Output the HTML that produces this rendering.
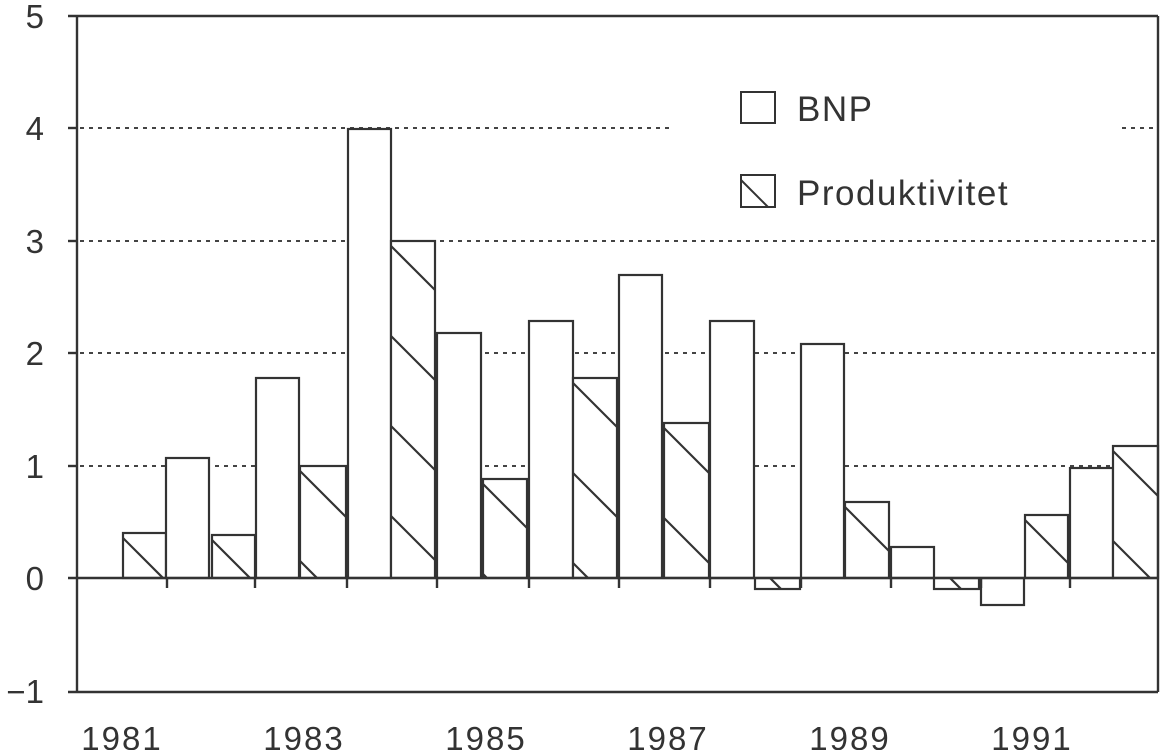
<!DOCTYPE html>
<html><head><meta charset="utf-8"><style>
html,body{margin:0;padding:0;background:#fff;}
svg text{font-family:"Liberation Sans","DejaVu Sans",sans-serif;fill:#333;}
</style></head><body>
<svg width="1162" height="750" viewBox="0 0 1162 750" xmlns="http://www.w3.org/2000/svg">
<defs>
<clipPath id="c1"><rect x="123" y="533" width="43" height="45"/></clipPath>
<clipPath id="c3"><rect x="212" y="535" width="43" height="43"/></clipPath>
<clipPath id="c5"><rect x="300" y="466" width="46" height="112"/></clipPath>
<clipPath id="c7"><rect x="391" y="241" width="44" height="337"/></clipPath>
<clipPath id="c9"><rect x="483" y="479" width="44" height="99"/></clipPath>
<clipPath id="c11"><rect x="573" y="378" width="44" height="200"/></clipPath>
<clipPath id="c13"><rect x="664" y="423" width="45" height="155"/></clipPath>
<clipPath id="c15"><rect x="755" y="578" width="45" height="11"/></clipPath>
<clipPath id="c17"><rect x="845" y="502" width="44" height="76"/></clipPath>
<clipPath id="c19"><rect x="934" y="578" width="45" height="11"/></clipPath>
<clipPath id="c21"><rect x="1025" y="515" width="43" height="63"/></clipPath>
<clipPath id="c23"><rect x="1113" y="446" width="45" height="132"/></clipPath>
</defs>
<g stroke="#444" stroke-width="2" stroke-dasharray="4,5">
<line x1="80" y1="466" x2="1156" y2="466"/>
<line x1="80" y1="353" x2="1156" y2="353"/>
<line x1="80" y1="241" x2="1156" y2="241"/>
<line x1="80" y1="128" x2="670" y2="128"/>
<line x1="1122" y1="128" x2="1156" y2="128"/>
</g>
<g stroke="#333" stroke-width="2.2" fill="#fff">
<rect x="123" y="533" width="43" height="45"/>
<rect x="166" y="458" width="43" height="120"/>
<rect x="212" y="535" width="43" height="43"/>
<rect x="256" y="378" width="43" height="200"/>
<rect x="300" y="466" width="46" height="112"/>
<rect x="348" y="129" width="43" height="449"/>
<rect x="391" y="241" width="44" height="337"/>
<rect x="437" y="333" width="44" height="245"/>
<rect x="483" y="479" width="44" height="99"/>
<rect x="529" y="321" width="44" height="257"/>
<rect x="573" y="378" width="44" height="200"/>
<rect x="619" y="275" width="43" height="303"/>
<rect x="664" y="423" width="45" height="155"/>
<rect x="710" y="321" width="44" height="257"/>
<rect x="755" y="578" width="45" height="11"/>
<rect x="801" y="344" width="43" height="234"/>
<rect x="845" y="502" width="44" height="76"/>
<rect x="891" y="547" width="43" height="31"/>
<rect x="934" y="578" width="45" height="11"/>
<rect x="981" y="578" width="43" height="27"/>
<rect x="1025" y="515" width="43" height="63"/>
<rect x="1070" y="468" width="43" height="110"/>
<rect x="1113" y="446" width="45" height="132"/>
</g>
<g stroke="#333" stroke-width="2.2">
<g clip-path="url(#c1)"><line x1="123" y1="538" x2="166" y2="581"/></g>
<g clip-path="url(#c3)"><line x1="212" y1="540" x2="255" y2="583"/></g>
<g clip-path="url(#c5)"><line x1="300" y1="471" x2="346" y2="517"/><line x1="300" y1="561" x2="346" y2="607"/></g>
<g clip-path="url(#c7)"><line x1="391" y1="246" x2="435" y2="290"/><line x1="391" y1="336" x2="435" y2="380"/><line x1="391" y1="426" x2="435" y2="470"/><line x1="391" y1="516" x2="435" y2="560"/></g>
<g clip-path="url(#c9)"><line x1="483" y1="484" x2="527" y2="528"/><line x1="483" y1="574" x2="527" y2="618"/></g>
<g clip-path="url(#c11)"><line x1="573" y1="383" x2="617" y2="427"/><line x1="573" y1="473" x2="617" y2="517"/><line x1="573" y1="563" x2="617" y2="607"/></g>
<g clip-path="url(#c13)"><line x1="664" y1="428" x2="709" y2="473"/><line x1="664" y1="518" x2="709" y2="563"/></g>
<g clip-path="url(#c15)"><line x1="770" y1="578" x2="790" y2="598"/></g>
<g clip-path="url(#c17)"><line x1="845" y1="507" x2="889" y2="551"/></g>
<g clip-path="url(#c19)"><line x1="950" y1="578" x2="970" y2="598"/></g>
<g clip-path="url(#c21)"><line x1="1025" y1="520" x2="1068" y2="563"/></g>
<g clip-path="url(#c23)"><line x1="1113" y1="451" x2="1158" y2="496"/><line x1="1113" y1="541" x2="1158" y2="586"/></g>
</g>
<g stroke="#333" stroke-width="2.4" fill="none">
<line x1="68" y1="16" x2="1158" y2="16"/>
<line x1="77" y1="16" x2="77" y2="692"/>
<line x1="68" y1="692" x2="1158" y2="692"/>
<line x1="1158" y1="16" x2="1158" y2="692"/>
<line x1="68" y1="578" x2="1158" y2="578"/>
<line x1="68" y1="128" x2="77" y2="128"/>
<line x1="68" y1="241" x2="77" y2="241"/>
<line x1="68" y1="353" x2="77" y2="353"/>
<line x1="68" y1="466" x2="77" y2="466"/>
<g>
<line x1="167" y1="578" x2="167" y2="588"/><line x1="255" y1="578" x2="255" y2="588"/>
<line x1="347" y1="578" x2="347" y2="588"/><line x1="437" y1="578" x2="437" y2="588"/>
<line x1="529" y1="578" x2="529" y2="588"/><line x1="619" y1="578" x2="619" y2="588"/>
<line x1="710" y1="578" x2="710" y2="588"/><line x1="801" y1="578" x2="801" y2="588"/>
<line x1="891" y1="578" x2="891" y2="588"/><line x1="981" y1="578" x2="981" y2="588"/>
<line x1="1070" y1="578" x2="1070" y2="588"/>
</g>
<rect x="741" y="92" width="34" height="31" stroke-width="2"/>
<rect x="741" y="175" width="34" height="32" stroke-width="2"/>
<line x1="741" y1="180" x2="768" y2="207" stroke-width="2"/>
</g>
<g font-size="33" text-anchor="end">
<text x="44" y="28">5</text>
<text x="44" y="140">4</text>
<text x="44" y="253">3</text>
<text x="44" y="365">2</text>
<text x="44" y="478">1</text>
<text x="44" y="590">0</text>
<text x="44" y="703">−1</text>
</g>
<g font-size="33" text-anchor="middle" letter-spacing="2">
<text x="122" y="750">1981</text>
<text x="304" y="750">1983</text>
<text x="486" y="750">1985</text>
<text x="668" y="750">1987</text>
<text x="850" y="750">1989</text>
<text x="1032" y="750">1991</text>
</g>
<g font-size="35" letter-spacing="1.5">
<text x="797" y="121">BNP</text>
<text x="797" y="205">Produktivitet</text>
</g>
</svg>
</body></html>
